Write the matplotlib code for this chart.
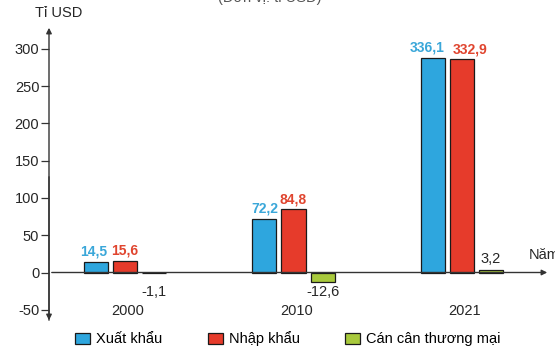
import matplotlib
matplotlib.use("Agg")
import matplotlib.pyplot as plt
from matplotlib.patches import Patch

years = ["2000", "2010", "2021"]
export_labels = ["14,5", "72,2", "336,1"]
import_labels = ["15,6", "84,8", "332,9"]
balance_labels = ["-1,1", "-12,6", "3,2"]
# bar heights as drawn in the picture (2021 bars drawn shortened in the source)
export_vals = [14.5, 72.2, 288]
import_vals = [15.6, 84.8, 286]
balance_vals = [-1.1, -12.6, 3.2]
yticks = [-50, 0, 50, 100, 150, 200, 250, 300]
series_names = ["Xuất khẩu", "Nhập khẩu", "Cán cân thương mại"]

c_exp = "#2ea6de"
c_imp = "#e63b2b"
c_bal = "#a8c93c"
c_exp_txt = "#3aa7d9"
c_imp_txt = "#e0452f"
txt = "#262626"

plt.rcParams['font.family'] = ['Liberation Sans', 'DejaVu Sans']
W, H = 555, 348
fig = plt.figure(figsize=(W / 100, H / 100), dpi=100)
ax_l, ax_r, ax_t, ax_b = 49, 550, 25, 323
ax = fig.add_axes([ax_l / W, 1 - ax_b / H, (ax_r - ax_l) / W, (ax_b - ax_t) / H])

px = 1 / 168.0
centers = [0.0, 1.0, 2.0]
bw = 24 * px
step = 29 * px
ax.set_xlim(-76 * px, 2 + 88 * px)
ax.set_ylim(-67.7, 331.8)

xe = [c - step for c in centers]
xi = [c for c in centers]
xb = [c + step for c in centers]
ax.bar(xe, export_vals, bw, color=c_exp, edgecolor="#1a1a1a", linewidth=0.9, zorder=3)
ax.bar(xi, import_vals, bw, color=c_imp, edgecolor="#1a1a1a", linewidth=0.9, zorder=3)
ax.bar(xb, balance_vals, bw, color=c_bal, edgecolor="#1a1a1a", linewidth=0.9, zorder=3)

lab_dx_exp = [-2, 0, -6]
lab_dx_imp = [0, 0, 8]
for x, v, t, dx in zip(xe, export_vals, export_labels, lab_dx_exp):
    ax.annotate(t, (x, v), xytext=(dx, 3), textcoords="offset pixels", ha="center", va="bottom",
                fontsize=10, fontweight="bold", color=c_exp_txt)
for x, v, t, dx in zip(xi, import_vals, import_labels, lab_dx_imp):
    ax.annotate(t, (x, v), xytext=(dx, 3), textcoords="offset pixels", ha="center", va="bottom",
                fontsize=10, fontweight="bold", color=c_imp_txt)
for x, v, t in zip(xb, balance_vals, balance_labels):
    if v < 0:
        ax.annotate(t, (x, 0), xytext=(0, -19), textcoords="offset pixels", ha="center", va="center",
                    fontsize=10.5, color=txt)
    else:
        ax.annotate(t, (x, v), xytext=(0, 4), textcoords="offset pixels", ha="center", va="bottom",
                    fontsize=10.5, color=txt)

# year labels
for c, y in zip(centers, years):
    ax.annotate(y, (c, 0), xycoords=("data", "data"), xytext=(3, -38), textcoords="offset pixels",
                ha="center", va="center", fontsize=10.5, color=txt)

for s in ax.spines.values():
    s.set_visible(False)
ax.set_xticks([])
ax.set_yticks(yticks)
ax.set_yticklabels([str(v) for v in yticks], fontsize=10.5, color=txt)
ax.tick_params(axis="y", length=6, width=0.9, color="#333333", pad=1)

# axes with arrows
ax.annotate("", xy=(0, 1), xycoords="axes fraction", xytext=(0, 0),
            arrowprops=dict(arrowstyle="-|>", color="#333333", lw=1.0, mutation_scale=8))
ax.annotate("", xy=(0, 0), xycoords="axes fraction", xytext=(0, 0.5),
            arrowprops=dict(arrowstyle="-|>", color="#333333", lw=1.0, mutation_scale=8))
ax.annotate("", xy=(1, 0), xycoords=("axes fraction", "data"), xytext=(0, 0),
            textcoords=("axes fraction", "data"),
            arrowprops=dict(arrowstyle="-|>", color="#333333", lw=1.0, mutation_scale=8))

fig.text(35 / W, 1 - 13 / H, "Tỉ USD", fontsize=10.5, va="center", ha="left", color=txt)
fig.text(529 / W, 1 - 255 / H, "Năm", fontsize=10.5, va="center", ha="left", color=txt)
fig.text(270 / W, 1 - 5 / H, "(Đơn vị: tỉ USD)", fontsize=10.5, va="bottom", ha="center", color="#555555")

handles = [Patch(facecolor=c_exp, edgecolor="#1a1a1a", lw=0.9),
           Patch(facecolor=c_imp, edgecolor="#1a1a1a", lw=0.9),
           Patch(facecolor=c_bal, edgecolor="#1a1a1a", lw=0.9)]
fig.legend(handles, series_names, loc="center left", bbox_to_anchor=(75 / W, 1 - 339 / H),
           ncol=3, frameon=False, fontsize=10.5, handlelength=1.05, handleheight=0.75,
           handletextpad=0.4, columnspacing=3.1, borderaxespad=0, borderpad=0)

fig.savefig("out.png", dpi=100, facecolor="white")
